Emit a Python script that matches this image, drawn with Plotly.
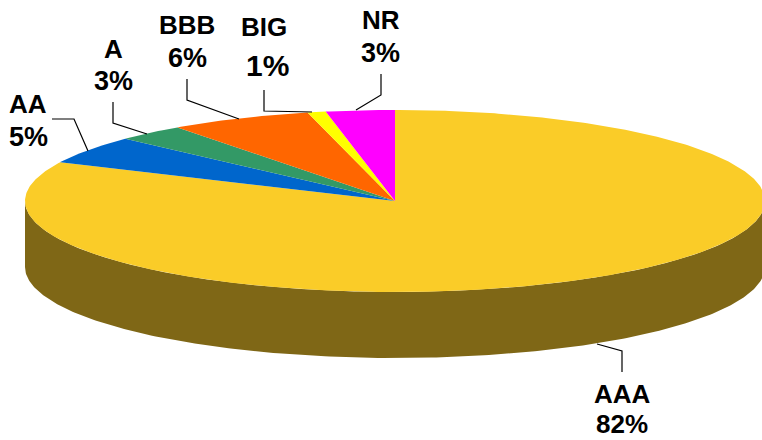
import numpy as np
import plotly.graph_objects as go

categories = ["AAA", "AA", "A", "BBB", "BIG", "NR"]
shares = [82, 5, 3, 6.2, 0.8, 3]
slice_colors = ["#FACC28", "#0066CC", "#339966", "#FF6600", "#FFFF00", "#FF00FF"]
side_color = "#7F6716"

CX, CY, RX, RY, DEPTH = 395, 201, 370, 91, 66
W, H = 762, 440

label_pos = {"AAA": (622, 394, 622, 424), "AA": (28, 104, 28, 137), "A": (113, 49, 113, 81),
             "BBB": (187, 25, 187, 58), "BIG": (264, 27, 267, 65), "NR": (381, 20, 380, 53)}
pct_size = {"BIG": 30, "AAA": 26}
leaders = {"AAA": ([622, 622, 597], [372, 351, 344]),
           "AA": ([52, 74, 88], [119, 119, 151]),
           "A": ([113, 113, 147], [102, 123, 134]),
           "BBB": ([187, 187, 239], [79, 100, 119]),
           "BIG": ([264, 264, 312], [90, 111, 112]),
           "NR": ([381, 381, 356], [74, 95, 110])}


def rim(a0, a1, n):
    t = np.linspace(a0, a1, n)
    return CX + RX * np.sin(t), CY - RY * np.cos(t)


fig = go.Figure()

# side wall: the front half of the ellipse, extruded downward
sx, sy = rim(np.pi / 2, 3 * np.pi / 2, 240)
fig.add_trace(go.Scatter(
    x=np.r_[sx, sx[::-1]], y=np.r_[sy, sy[::-1] + DEPTH],
    mode="lines", fill="toself", fillcolor=side_color, line=dict(width=0),
    hoverinfo="skip", showlegend=False))

# top face: slices run clockwise from 12 o'clock
edges = np.r_[0, np.cumsum(shares)] / sum(shares) * 2 * np.pi
for i, name in enumerate(categories):
    n = max(6, int(shares[i] * 6))
    ex, ey = rim(edges[i], edges[i + 1], n)
    fig.add_trace(go.Scatter(
        x=np.r_[CX, ex, CX], y=np.r_[CY, ey, CY],
        mode="lines", fill="toself", fillcolor=slice_colors[i], line=dict(width=0),
        name=name, hoverinfo="name", showlegend=False))

for name, (lx, ly) in leaders.items():
    fig.add_trace(go.Scatter(x=lx, y=ly, mode="lines", line=dict(color="black", width=1.2),
                             hoverinfo="skip", showlegend=False))

annotations = []
for name, share in zip(categories, shares):
    x1, y1, x2, y2 = label_pos[name]
    for x, y, text, size in ((x1, y1, name, 26), (x2, y2, f"{round(share)}%", pct_size.get(name, 27))):
        annotations.append(dict(x=x, y=y, text=f"<b>{text}</b>", showarrow=False,
                                xanchor="center", yanchor="middle",
                                font=dict(family="Liberation Sans", size=size, color="black")))

fig.update_layout(
    width=W, height=H, autosize=False, margin=dict(l=0, r=0, t=0, b=0),
    paper_bgcolor="white", plot_bgcolor="white", annotations=annotations,
    xaxis=dict(range=[0, W], visible=False, fixedrange=True),
    yaxis=dict(range=[H, 0], visible=False, fixedrange=True),
)
fig.write_html("out.html", config={"displayModeBar": False},
               post_script="document.body.style.margin='0';document.body.style.overflow='hidden';")
